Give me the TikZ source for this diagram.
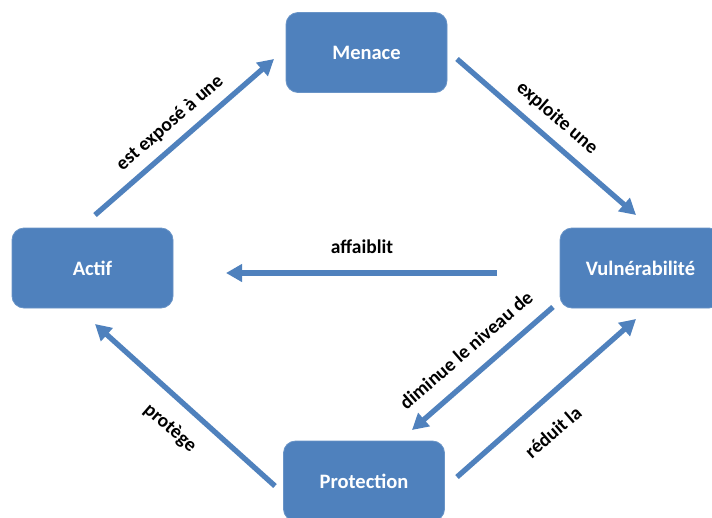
\documentclass[tikz,border=0pt]{standalone}
\usepackage{fontspec}
\setmainfont{Carlito}
\usetikzlibrary{arrows.meta}
\definecolor{boxblue}{HTML}{4F81BD}
\tikzset{
  boxnode/.style={fill=boxblue, draw=boxblue!85!white, line width=0.8pt, rounded corners=12pt,
    minimum width=161pt, minimum height=80pt, inner sep=0pt, text=white,
    font=\fontsize{20.5}{24}\selectfont\bfseries},
  conn/.style={draw=boxblue, line width=5.3pt, -{Triangle[length=16pt,width=17pt]}},
  lbl/.style={font=\fontsize{19.5}{23}\selectfont\bfseries, text=black, inner sep=0pt}
}
\begin{document}
\begin{tikzpicture}[x=1pt,y=-1pt]
\clip (0,0) rectangle (712,517);
\fill[white] (0,0) rectangle (712,517);
\node[boxnode] (menace) at (366.5,52.5) {Menace};
\node[boxnode] (actif) at (92.5,268) {Actif};
\node[boxnode] (vuln) at (640.5,268) {Vulnérabilité};
\node[boxnode] (prot) at (364,481) {Protection};
% arrow end points
\coordinate (a1s) at (95,215);  \coordinate (a1e) at (274,59);
\coordinate (a2s) at (457,59);  \coordinate (a2e) at (636,215);
\coordinate (a3s) at (497,273); \coordinate (a3e) at (226,273);
\coordinate (a4s) at (553,307); \coordinate (a4e) at (412,430);
\coordinate (a5s) at (457,477); \coordinate (a5e) at (636,319);
\coordinate (a6s) at (275,486); \coordinate (a6e) at (95,324);
\draw[conn] (a1s) -- (a1e);
\draw[conn] (a2s) -- (a2e);
\draw[conn] (a3s) -- (a3e);
\draw[conn] (a4s) -- (a4e);
\draw[conn] (a5s) -- (a5e);
\draw[conn] (a6s) -- (a6e);
\node[lbl, rotate=41] (l1) at (170,123) {est exposé à une};
\node[lbl, rotate=-41] (l2) at (557,118) {exploite une};
\node[lbl] (l3) at (362,247) {affaiblit};
\node[lbl, rotate=41] (l4) at (466,350) {diminue le niveau de};
\node[lbl, rotate=41] (l5) at (553,432) {réduit la};
\node[lbl, rotate=-41] (l6) at (170,428) {protège};
\end{tikzpicture}
\end{document}
